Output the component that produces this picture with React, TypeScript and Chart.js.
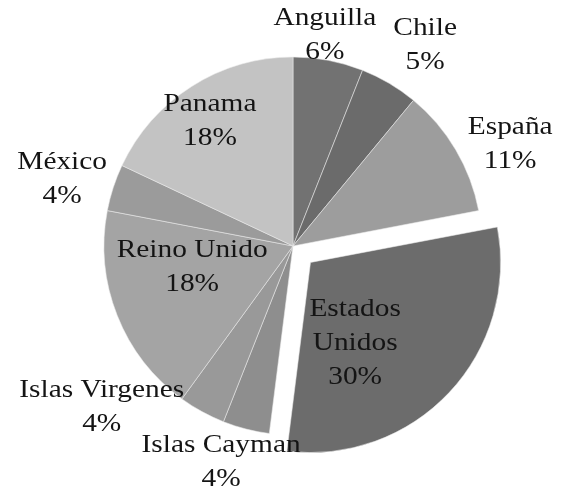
import React, { useEffect, useRef } from 'react';
import { Chart, registerables } from 'chart.js';

Chart.register(...registerables);

const countries = ['Anguilla', 'Chile', 'España', 'Estados Unidos', 'Islas Cayman', 'Islas Virgenes', 'Reino Unido', 'México', 'Panama'];
const shares = [6, 5, 11, 30, 4, 4, 18, 4, 18];
const sliceColors = ['#727272', '#6b6b6b', '#9d9d9d', '#6c6c6c', '#8e8e8e', '#999999', '#a4a4a4', '#9b9b9b', '#c3c3c3'];
const labelLines = [['Anguilla'], ['Chile'], ['España'], ['Estados', 'Unidos'], ['Islas Cayman'], ['Islas Virgenes'], ['Reino Unido'], ['México'], ['Panama']];
const labelRadius = [1.127, 1.27, 1.27, 0.487, 1.206, 1.323, 0.545, 1.272, 0.794];
const labelAngleShift = [-2.2, 2.8, 5.4, 17.8, 4, 21.1, 9.9, -1.8, -1.2];
const explodePx = [0, 0, 0, 24, 0, 0, 0, 0, 0];

const labelPlugin = {
  id: 'sliceLabels',
  afterDatasetsDraw(chart: any) {
    const ctx = chart.ctx;
    const meta = chart.getDatasetMeta(0);
    ctx.save();
    ctx.fillStyle = '#141414';
    ctx.font = '26px "Liberation Serif", "Times New Roman", serif';
    ctx.textAlign = 'center';
    ctx.textBaseline = 'middle';
    meta.data.forEach((arc: any, i: number) => {
      const { x, y, startAngle, endAngle, outerRadius } = arc.getProps(['x', 'y', 'startAngle', 'endAngle', 'outerRadius'], true);
      const mid = (startAngle + endAngle) / 2;
      const ex = x + Math.cos(mid) * explodePx[i];
      const ey = y + Math.sin(mid) * explodePx[i];
      const a = mid + (labelAngleShift[i] * Math.PI) / 180;
      const r = outerRadius * labelRadius[i];
      const cx = ex + Math.cos(a) * r;
      const cy = ey + Math.sin(a) * r;
      const lines = [...labelLines[i], shares[i] + '%'];
      const lh = 34;
      lines.forEach((t, j) => {
        const ly = cy + (j - (lines.length - 1) / 2) * lh;
        ctx.save();
        ctx.translate(cx, ly);
        ctx.scale(1.13, 1);
        ctx.fillText(t, 0, 0);
        ctx.restore();
      });
    });
    ctx.restore();
  },
};

export default function App() {
  const ref = useRef<HTMLCanvasElement | null>(null);
  useEffect(() => {
    const canvas = ref.current;
    if (!canvas) return;
    const chart = new Chart(canvas, {
      type: 'pie',
      data: {
        labels: countries,
        datasets: [
          {
            data: shares,
            backgroundColor: sliceColors,
            borderColor: 'rgba(235,235,235,0.55)',
            borderWidth: 1,
            offset: explodePx.map((v) => v * 4),
          },
        ],
      },
      options: {
        responsive: false,
        animation: false,
        devicePixelRatio: 1,
        radius: 189,
        layout: { padding: { left: 19, right: 0, top: 0, bottom: 7 } },
        plugins: {
          legend: { display: false },
          tooltip: { enabled: false },
          title: { display: false },
        },
      },
      plugins: [labelPlugin],
    });
    return () => chart.destroy();
  }, []);
  return (
    <div style={{ position: 'fixed', left: 0, top: 0, width: 567, height: 499, background: '#fff' }}>
      <canvas ref={ref} width={567} height={499} style={{ display: 'block', width: 567, height: 499 }} />
    </div>
  );
}
